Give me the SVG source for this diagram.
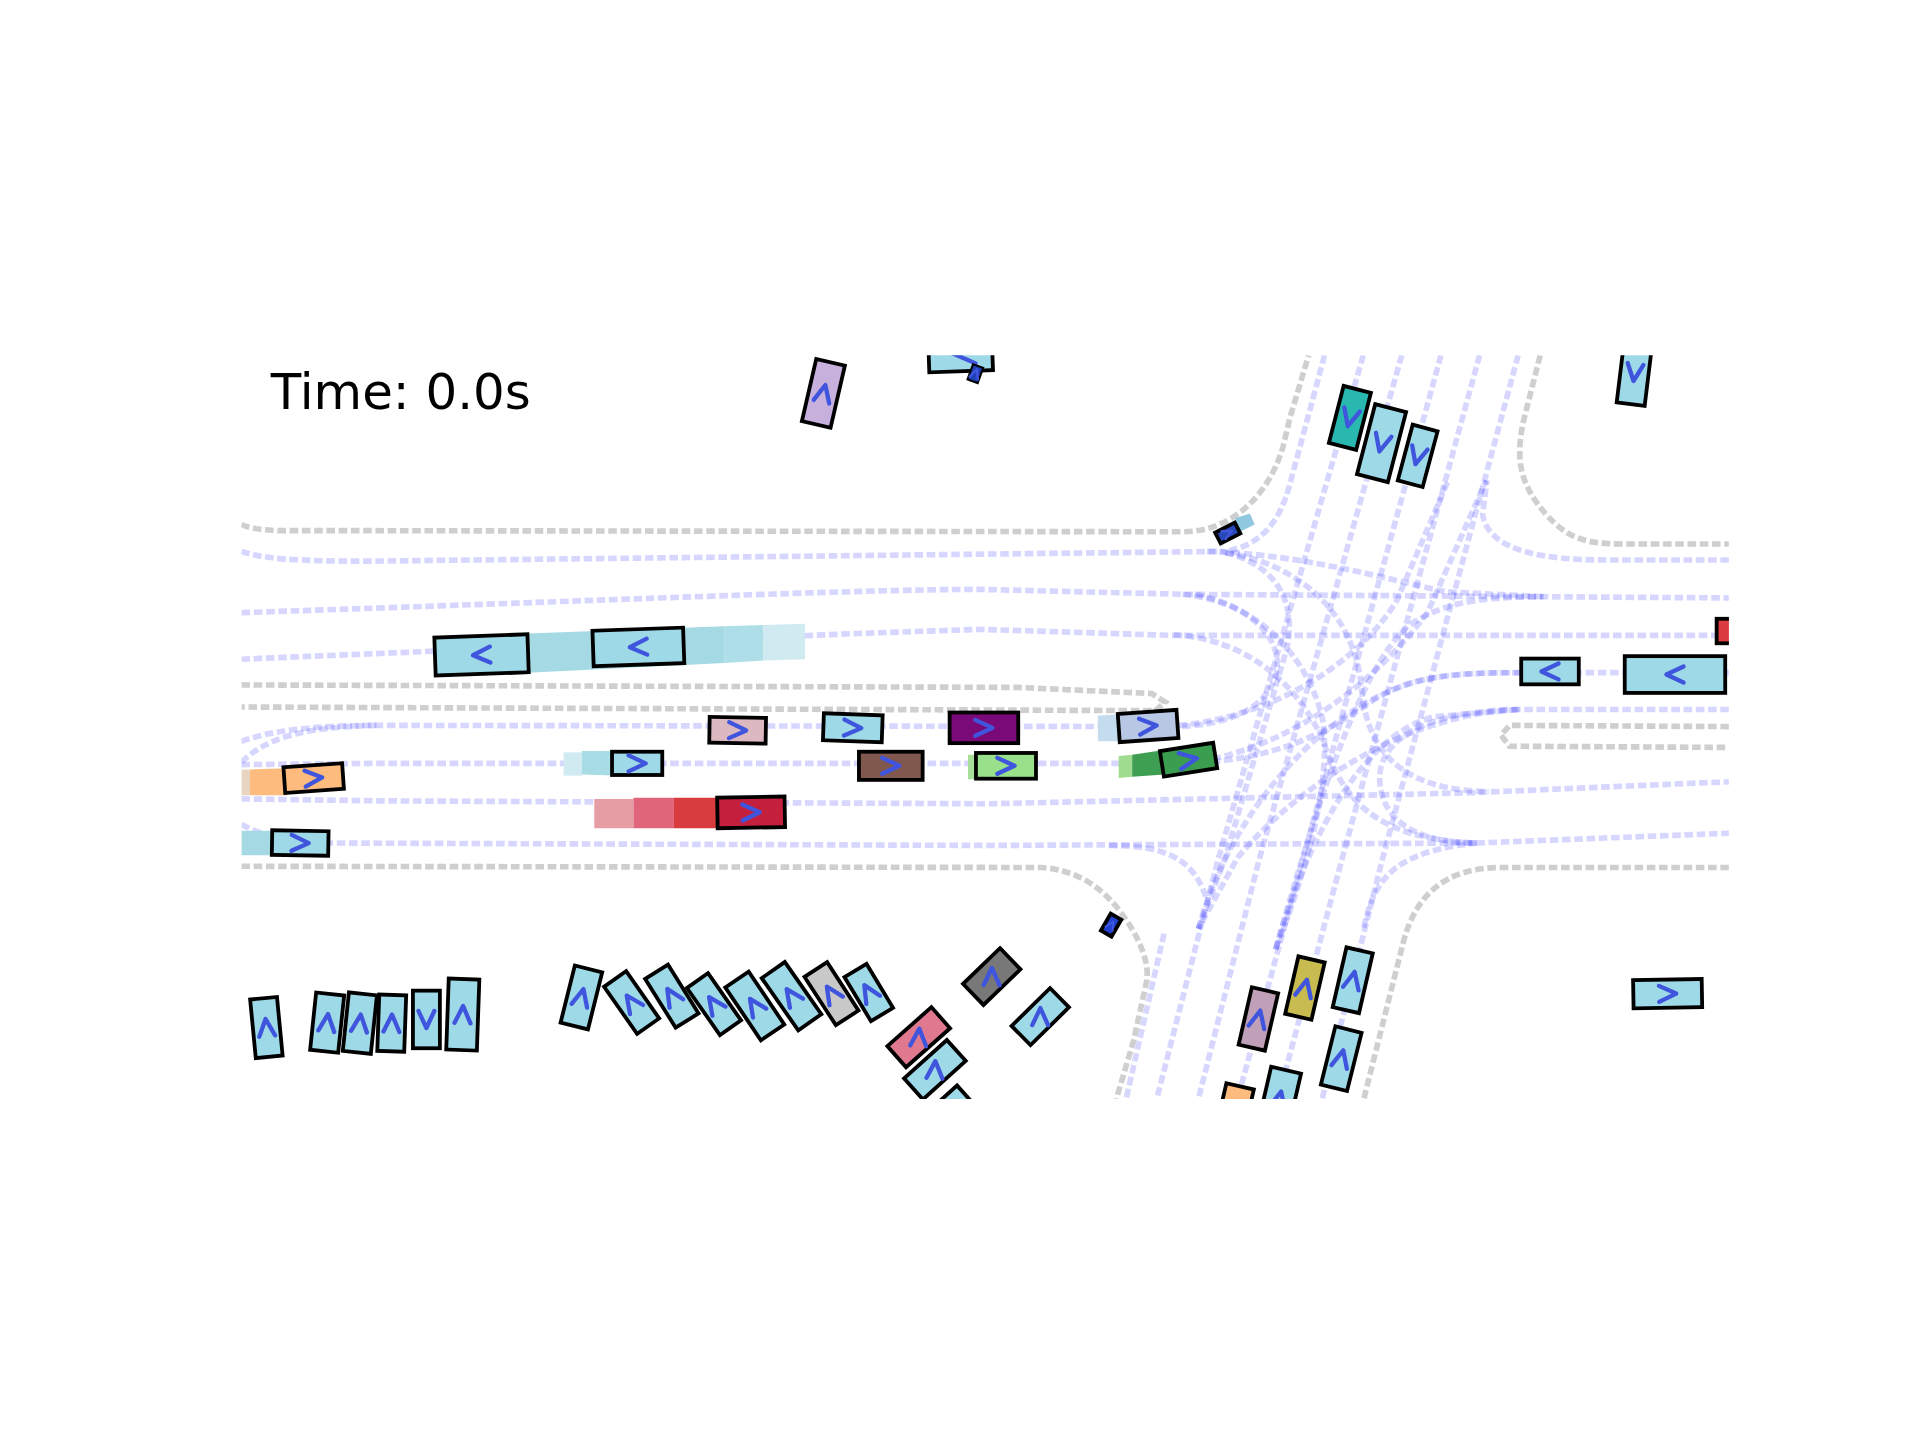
<svg xmlns="http://www.w3.org/2000/svg" width="1920" height="1440" viewBox="0 0 1920 1440">
<style>
.bd{fill:none;stroke:#808080;stroke-opacity:.38;stroke-width:4.6;stroke-dasharray:7 3}
.ln{fill:none;stroke:#3030ff;stroke-opacity:.2;stroke-width:4.6;stroke-dasharray:7 3}
.v rect{stroke:#000;stroke-width:3.1}
.b{fill:#9dd9e6}
.ch{fill:none;stroke:#4055dd;stroke-width:3.5;stroke-linecap:round;stroke-linejoin:round}
text{font-family:"DejaVu Sans",sans-serif;font-size:40.7px;fill:#000}
</style>
<defs>
<clipPath id="plot"><rect x="197" y="290" width="1214" height="607"/></clipPath>
<path id="c" class="ch" d="M-7,-6.5 L7,0 L-7,6.5"/>
</defs>
<rect width="1920" height="1440" fill="#fff"/>
<g transform="scale(1.2253)">
<text x="221" y="334">Time: 0.0s</text>
<g clip-path="url(#plot)">
<g id="road-boundaries">
<path class="bd" d="M197,428 Q205,432 225,433 L965,434 C1005,434 1035,405 1047,365 L1053,340 L1068,290"/>
<path class="bd" d="M1257,290 L1243,345 C1237,375 1240,395 1262,420 C1280,440 1295,444 1325,444 L1411,444"/>
<path class="bd" d="M197,559 L830,561 L940,566 L951,573 L943,580 L197,577"/>
<path class="bd" d="M1411,593 L1232,592 L1225,600 L1232,609 L1411,610"/>
<path class="bd" d="M197,707 L850,708 C880,710 900,725 915,745 C930,765 938,785 936,800 L925,850 L911,897"/>
<path class="bd" d="M1411,708 L1225,708 C1180,708 1155,730 1145,770 L1113,897"/>
</g>
<g id="connectors">
<path class="ln" d="M197,450 C215,456 240,458 300,458 L1000,450"/>
<path class="ln" d="M197,500 C500,490 700,481 800,481 L965,485 L1411,488"/>
<path class="ln" d="M197,538 L700,517 L800,513.6 L958,518.6 L1411,518.6"/>
<path class="ln" d="M197,605 C220,597 250,592 310,592 L962,593"/>
<path class="ln" d="M197,622 C215,605 240,593 310,592"/>
<path class="ln" d="M197,624 L310,623 L990,623"/>
<path class="ln" d="M197,652 L310,653.6 L808,656 L1200,647 L1411,638"/>
<path class="ln" d="M197,673 C215,682 240,688 270,688 L808,690 L1205,688 L1411,680"/>
<path class="ln" d="M1411,457 L1310,457 C1260,457 1215,450 1210,420 L1213.5,392"/>
<path class="ln" d="M1411,579 L1235,579 C1170,581 1128,600 1126,633 C1125,665 1150,688 1205,688"/>
<path class="ln" d="M1411,549 L1243,549 C1180,549 1150,553 1120,572 C1080,600 1040,620 970,623"/>
<path class="ln" d="M1081,290 L1053,394 C1045,425 1030,445 1000,450"/>
<path class="ln" d="M1112.6,290 L994,702 L944,897"/>
<path class="ln" d="M1144,290 L1027.5,702 L978,897"/>
<path class="ln" d="M1176,290 L1063,702 L1010,897"/>
<path class="ln" d="M1207.5,290 L1095,702 L1043,897"/>
<path class="ln" d="M1239,290 L1128,702 L1079,897"/>
<path class="ln" d="M950,762 L919,897"/>
<path class="ln" d="M1113,757 C1122,715 1140,695 1205,688"/>
<path class="ln" d="M905,690 C950,690 975,700 985,735"/>
<path class="ln" d="M958,518 C1020,522 1060,560 1080,605 C1095,650 1120,685 1205,688"/>
<path class="ln" d="M965,485 C1030,492 1050,530 1040,555 C1030,580 1000,592 960,593"/>
<path class="ln" d="M1000,451 C1045,462 1058,495 1050,530 L1000,700 L978,758"/>
<path class="ln" d="M1000,451 C1060,460 1105,500 1111,560 C1115,610 1140,645 1215,646"/>
<path class="ln" d="M985,450 C1060,452 1130,472 1180,483 L1260,487"/>
<path class="ln" d="M978,758 C1005,660 1080,580 1150,558 C1180,549 1210,549 1243,549"/>
<path class="ln" d="M1041,775 C1065,690 1110,600 1170,585 L1240,579"/>
<path class="ln" d="M1041,775 C1075,655 1110,545 1150,510 C1175,495 1195,487 1260,487"/>
<path class="ln" d="M962,592 C1040,585 1110,540 1140,490 L1182,392"/>
<path class="ln" d="M970,623 C1050,612 1120,560 1165,500 L1213,392"/>
<path class="ln" d="M975,485 C1030,495 1070,540 1080,590 C1085,640 1070,700 1041,775"/>
<path class="ln" d="M1240,579 C1150,582 1060,640 1010,700 L978,758"/>
</g>
<g id="trails">
<polygon fill="#a5dae5" points="431,517 591,511 591,541 431,549"/>
<polygon fill="#aedee8" points="591,511 623,510 623,539 591,541"/>
<polygon fill="#cfeaf0" points="623,510 657,509 657,538 623,539"/>
<polygon fill="#cfeaf0" points="460,614 475,614 475,633 460,633"/>
<polygon fill="#a8dde5" points="475,613 500,613 500,633 475,632"/>
<polygon fill="#c5dcee" points="896,584 915,583 915,605 896,605"/>
<polygon fill="#a8e09a" points="790,616 797,616 797,636 790,636"/>
<polygon fill="#a0dc90" points="913,617 924,616 924,634 913,635"/>
<polygon fill="#3e9f52" points="924,616 950,612 950,632 924,634"/>
<polygon fill="#e8d4c0" points="197,628 204,628 204,649 197,649"/>
<polygon fill="#fdbc7d" points="204,628 234,627 234,649 204,649"/>
<polygon fill="#e69da3" points="485,652 517,652 517,676 485,676"/>
<polygon fill="#e0647a" points="517,651 550,651 550,676 517,676"/>
<polygon fill="#d83c3e" points="550,651 586,651 586,676 550,676"/>
<polygon fill="#a5dae5" points="197,678 223,678 223,698 197,698"/>
<polygon fill="#90c8e0" points="1008,423 1020,419 1024,428 1012,434"/>
</g>
<g id="v1" class="v" transform="translate(393,534.5) rotate(178)"><rect class="b" x="-38" y="-15.5" width="76" height="31"/><use href="#c"/></g>
<g id="v2" class="v" transform="translate(521,528) rotate(178)"><rect class="b" x="-37" y="-14.5" width="74" height="29"/><use href="#c"/></g>
<g id="v3" class="v" transform="translate(602,596) rotate(1)"><rect fill="#dcb8c0" x="-23" y="-10.5" width="46" height="21"/><use href="#c"/></g>
<g id="v4" class="v" transform="translate(696,594) rotate(2)"><rect class="b" x="-24" y="-11" width="48" height="22"/><use href="#c"/></g>
<g id="v5" class="v" transform="translate(803,594)"><rect fill="#7a0a78" x="-28" y="-12.5" width="56" height="25"/><use href="#c"/></g>
<g id="v6" class="v" transform="translate(937,592.5) rotate(-4)"><rect fill="#b8c8e4" x="-24" y="-11.5" width="48" height="23"/><use href="#c"/></g>
<g id="v7" class="v" transform="translate(520,623)"><rect class="b" x="-20.5" y="-9.5" width="41" height="19"/><use href="#c"/></g>
<g id="v8" class="v" transform="translate(727,625)"><rect fill="#80584e" x="-26" y="-11.5" width="52" height="23"/><use href="#c"/></g>
<g id="v9" class="v" transform="translate(821,625)"><rect fill="#98e08a" x="-24.5" y="-10.5" width="49" height="21"/><use href="#c"/></g>
<g id="v10" class="v" transform="translate(970,620) rotate(-9)"><rect fill="#3a9d50" x="-22" y="-10.5" width="44" height="21"/><use href="#c"/></g>
<g id="v11" class="v" transform="translate(256,635) rotate(-4)"><rect fill="#fdbc7d" x="-24" y="-10.5" width="48" height="21"/><use href="#c"/></g>
<g id="v12" class="v" transform="translate(613,663) rotate(-1)"><rect fill="#c41f3c" x="-27.5" y="-12.5" width="55" height="25"/><use href="#c"/></g>
<g id="v13" class="v" transform="translate(245,688) rotate(1)"><rect class="b" x="-23" y="-10" width="46" height="20"/><use href="#c"/></g>
<g id="v14" class="v" transform="translate(1265,548) rotate(180)"><rect class="b" x="-23.5" y="-10.5" width="47" height="21"/><use href="#c"/></g>
<g id="v15" class="v" transform="translate(1367,550.5) rotate(180)"><rect class="b" x="-41" y="-15" width="82" height="30"/><use href="#c"/></g>
<g id="v16" class="v" transform="translate(1426,515)"><rect fill="#dc3c40" x="-25" y="-10" width="50" height="20"/></g>
<g id="v17" class="v" transform="translate(1361,811) rotate(-1)"><rect class="b" x="-28" y="-11.5" width="56" height="23"/><use href="#c"/></g>
<g id="v18" class="v" transform="translate(672,321) rotate(-77)"><rect fill="#c8b0dc" x="-26" y="-12" width="52" height="24"/><use href="#c"/></g>
<g id="v19" class="v" transform="translate(784,291) rotate(-2)"><rect class="b" x="-26" y="-12" width="52" height="24"/><path class="ch" d="M-9,-4 L12,6"/></g>
<g id="v20" class="v" transform="translate(796,305) rotate(-70) scale(.55)"><rect fill="#2040b8" x="-12" y="-8" width="24" height="16"/><use href="#c"/></g>
<g id="v21" class="v" transform="translate(1101.7,341) rotate(104.5)"><rect fill="#28b8b0" x="-24" y="-11.5" width="48" height="23"/><use href="#c"/></g>
<g id="v22" class="v" transform="translate(1127.5,361.6) rotate(104.6)"><rect class="b" x="-29.5" y="-13" width="59" height="26"/><use href="#c"/></g>
<g id="v23" class="v" transform="translate(1157,372) rotate(105)"><rect class="b" x="-23.5" y="-10.5" width="47" height="21"/><use href="#c"/></g>
<g id="v24" class="v" transform="translate(1334,304) rotate(97)"><rect class="b" x="-26" y="-11.5" width="52" height="23"/><use href="#c"/></g>
<g id="v25" class="v" transform="translate(1002,435) rotate(-27)"><rect fill="#2848b8" x="-9" y="-5" width="18" height="10"/><use href="#c" transform="scale(.55)"/></g>
<g id="v26" class="v" transform="translate(217.4,838.6) rotate(-95.5)"><rect class="b" x="-24" y="-11" width="48" height="22"/><use href="#c"/></g>
<g id="v27" class="v" transform="translate(267,834.6) rotate(-84)"><rect class="b" x="-23.5" y="-11.5" width="47" height="23"/><use href="#c"/></g>
<g id="v28" class="v" transform="translate(293.7,835) rotate(-84)"><rect class="b" x="-24" y="-11.5" width="48" height="23"/><use href="#c"/></g>
<g id="v29" class="v" transform="translate(319.7,835) rotate(-88)"><rect class="b" x="-23" y="-11" width="46" height="22"/><use href="#c"/></g>
<g id="v30" class="v" transform="translate(348,832) rotate(90)"><rect class="b" x="-23.5" y="-11" width="47" height="22"/><use href="#c"/></g>
<g id="v31" class="v" transform="translate(377.7,828) rotate(-88)"><rect class="b" x="-29" y="-12.5" width="58" height="25"/><use href="#c"/></g>
<g id="v32" class="v" transform="translate(474.5,814) rotate(-76)"><rect class="b" x="-24" y="-11.5" width="48" height="23"/><use href="#c"/></g>
<g id="v33" class="v" transform="translate(515.5,818.2) rotate(-125)"><rect class="b" x="-23.5" y="-11" width="47" height="22"/><use href="#c"/></g>
<g id="v34" class="v" transform="translate(548.3,813) rotate(-122)"><rect class="b" x="-23.5" y="-11" width="47" height="22"/><use href="#c"/></g>
<g id="v35" class="v" transform="translate(582.7,819.5) rotate(-125)"><rect class="b" x="-23.5" y="-10.5" width="47" height="21"/><use href="#c"/></g>
<g id="v36" class="v" transform="translate(616,821) rotate(-124)"><rect class="b" x="-26" y="-11.5" width="52" height="23"/><use href="#c"/></g>
<g id="v37" class="v" transform="translate(646,813) rotate(-125)"><rect class="b" x="-26" y="-11.5" width="52" height="23"/><use href="#c"/></g>
<g id="v38" class="v" transform="translate(678.6,811) rotate(-123)"><rect fill="#c8c8c8" x="-23.5" y="-11" width="47" height="22"/><use href="#c"/></g>
<g id="v39" class="v" transform="translate(709,810) rotate(-121)"><rect class="b" x="-21" y="-10.5" width="42" height="21"/><use href="#c"/></g>
<g id="v40" class="v" transform="translate(749.8,846.5) rotate(-41.5)"><rect fill="#e07890" x="-24" y="-11.5" width="48" height="23"/><use href="#c" transform="rotate(-45)"/></g>
<g id="v41" class="v" transform="translate(763,873) rotate(-42)"><rect class="b" x="-23.5" y="-11.5" width="47" height="23"/><use href="#c" transform="rotate(-45)"/></g>
<g id="v42" class="v" transform="translate(771.3,910.2) rotate(-42)"><rect class="b" x="-23.5" y="-11.5" width="47" height="23"/></g>
<g id="v43" class="v" transform="translate(809.4,797) rotate(-44)"><rect fill="#787878" x="-21" y="-12" width="42" height="24"/><use href="#c" transform="rotate(-45)"/></g>
<g id="v44" class="v" transform="translate(849,829.7) rotate(-44.5)"><rect class="b" x="-22" y="-11" width="44" height="22"/><use href="#c" transform="rotate(-45)"/></g>
<g id="v45" class="v" transform="translate(906.8,755) rotate(-60)"><rect fill="#2040d0" x="-8" y="-5" width="16" height="10"/><use href="#c" transform="scale(.5)"/></g>
<g id="v46" class="v" transform="translate(1027,831.6) rotate(-77)"><rect fill="#c0a0b8" x="-24" y="-11" width="48" height="22"/><use href="#c"/></g>
<g id="v47" class="v" transform="translate(1065,806.4) rotate(-77)"><rect fill="#c8bc50" x="-24" y="-11" width="48" height="22"/><use href="#c"/></g>
<g id="v48" class="v" transform="translate(1104,800) rotate(-77)"><rect class="b" x="-25" y="-11" width="50" height="22"/><use href="#c"/></g>
<g id="v49" class="v" transform="translate(1094.6,864) rotate(-76)"><rect class="b" x="-24.5" y="-11" width="49" height="22"/><use href="#c"/></g>
<g id="v50" class="v" transform="translate(1044,897.7) rotate(-77)"><rect class="b" x="-25" y="-12.5" width="50" height="25"/><use href="#c"/></g>
<g id="v51" class="v" transform="translate(1006.7,910) rotate(-77)"><rect fill="#fdbc7d" x="-24" y="-11.5" width="48" height="23"/></g>
</g>
</g>
</svg>
